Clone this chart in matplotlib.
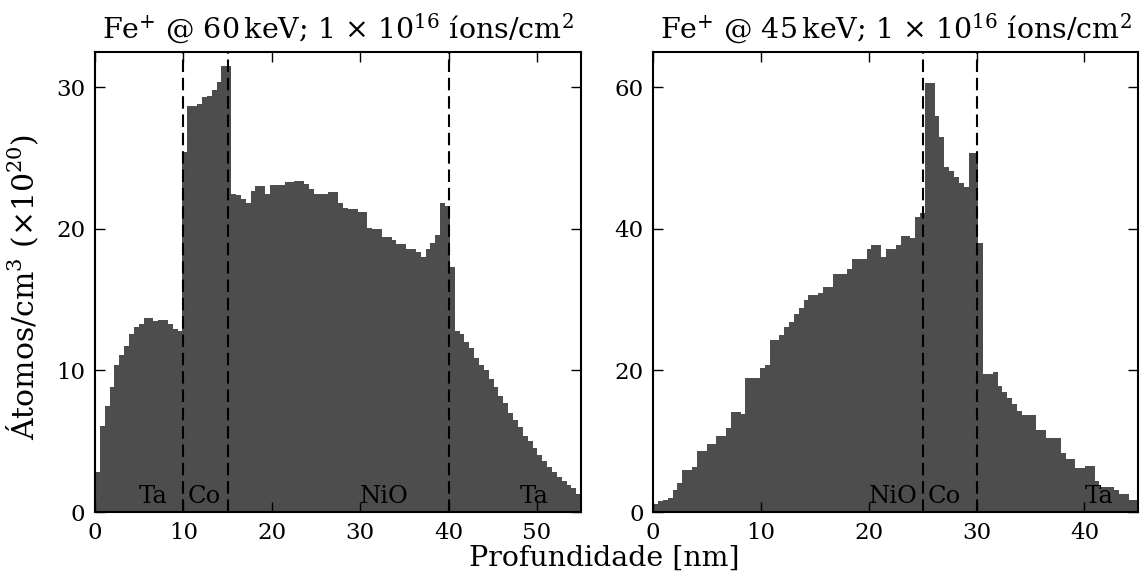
import matplotlib
matplotlib.use('Agg')
import matplotlib.pyplot as plt
import numpy as np

plt.rcParams['font.family'] = ['DejaVu Serif']
plt.rcParams['mathtext.fontset'] = 'dejavuserif'

# Fe+ @ 60 keV, 100 bins over 0-55 nm (x 1e20 atoms/cm3)
depth_max_60 = 55
fe_60kev = [2.8, 6.1, 7.5, 8.8, 10.4, 11.1, 11.7, 12.6, 13.1, 13.3,
            13.7, 13.7, 13.5, 13.6, 13.6, 13.3, 12.9, 12.8, 25.4, 28.7,
            28.7, 28.8, 29.3, 29.4, 29.8, 30.4, 31.5, 31.5, 22.5, 22.4,
            22.1, 21.8, 22.7, 23.0, 23.0, 22.5, 23.1, 23.1, 23.1, 23.3,
            23.3, 23.4, 23.4, 23.2, 22.8, 22.5, 22.5, 22.5, 22.6, 22.6,
            21.8, 21.5, 21.4, 21.4, 21.2, 21.2, 20.1, 20.0, 20.0, 19.4,
            19.4, 19.2, 18.9, 18.9, 18.6, 18.6, 18.4, 18.0, 18.6, 19.0,
            19.6, 21.8, 21.6, 17.3, 12.8, 12.6, 12.0, 11.6, 10.9, 10.4,
            10.0, 9.4, 8.8, 8.2, 7.7, 7.0, 6.5, 6.0, 5.4, 5.0,
            4.5, 4.0, 3.6, 3.2, 2.8, 2.5, 2.2, 1.9, 1.7, 1.3]

# Fe+ @ 45 keV, 100 bins over 0-45 nm
depth_max_45 = 45
fe_45kev = [1.2, 1.5, 1.7, 2.0, 3.1, 4.1, 5.9, 6.0, 6.3, 8.6,
            8.6, 9.6, 9.6, 10.7, 10.7, 11.8, 14.2, 14.2, 13.8, 19.0,
            19.0, 19.0, 20.4, 20.8, 24.3, 24.3, 25.0, 26.1, 26.8, 28.0,
            28.8, 29.9, 30.7, 30.7, 30.9, 31.8, 31.8, 33.7, 33.7, 33.7,
            34.4, 35.8, 35.8, 35.8, 37.1, 37.7, 37.7, 36.1, 37.1, 37.1,
            37.7, 39.0, 39.0, 38.7, 41.7, 42.3, 60.6, 60.6, 56.0, 53.0,
            48.7, 48.2, 47.4, 46.5, 45.9, 50.7, 50.7, 38.0, 19.5, 19.5,
            19.8, 17.8, 16.9, 16.1, 15.3, 14.3, 13.7, 13.7, 13.7, 11.6,
            11.6, 10.5, 10.5, 10.5, 8.3, 7.5, 7.5, 6.2, 6.2, 6.5,
            6.5, 4.4, 3.6, 3.6, 3.6, 3.1, 2.6, 2.6, 1.7, 1.7]

# layer interfaces and labels
bounds_60 = [10, 15, 40]
layers_60 = [('Ta', 5), ('Co', 10.5), ('NiO', 30), ('Ta', 48)]
bounds_45 = [25, 30]
layers_45 = [('NiO', 20), ('Co', 25.5), ('Ta', 40)]

panels = [
    (fe_60kev, depth_max_60, 32.5, [0, 10, 20, 30], bounds_60, layers_60, '60'),
    (fe_45kev, depth_max_45, 65, [0, 20, 40, 60], bounds_45, layers_45, '45'),
]

fig = plt.figure(figsize=(11.44, 5.79), dpi=100)
ax_pos = [[0.083, 0.1157, 0.425, 0.7945], [0.571, 0.1157, 0.424, 0.7945]]

for pos, (vals, dmax, ytop, yt, bounds, layers, energy) in zip(ax_pos, panels):
    ax = fig.add_axes(pos)
    edges = np.linspace(0, dmax, len(vals) + 1)
    ax.stairs(vals, edges, fill=True, color='0.3', lw=0)
    for b in bounds:
        ax.axvline(b, color='k', ls=(0, (6, 2.8)), lw=1.5)
    for name, xpos in layers:
        ax.text(xpos, 0.008, name, transform=ax.get_xaxis_transform(),
                ha='left', va='bottom', fontsize=17.5)
    ax.set_xlim(0, dmax)
    ax.set_ylim(0, ytop)
    ax.set_yticks(yt)
    ax.set_xticks(np.arange(0, dmax, 10))
    ax.tick_params(direction='in', top=True, right=True, length=7,
                   width=1, labelsize=16.5, pad=7)
    for s in ax.spines.values():
        s.set_linewidth(1.5)
    ax.set_title(r'Fe$^{+}$ @ %s$\,$keV; 1 $\times$ 10$^{16}$ íons/cm$^{2}$' % energy,
                 fontsize=20.5, pad=10)

fig.text(0.528, 0.012, 'Profundidade [nm]', ha='center', va='bottom', fontsize=20.5)
fig.text(0.02, 0.505, r'Átomos/cm$^{3}$ ($\times 10^{20}$)', rotation=90,
         ha='center', va='center', fontsize=21.5)

plt.savefig('out.png', dpi=100)
